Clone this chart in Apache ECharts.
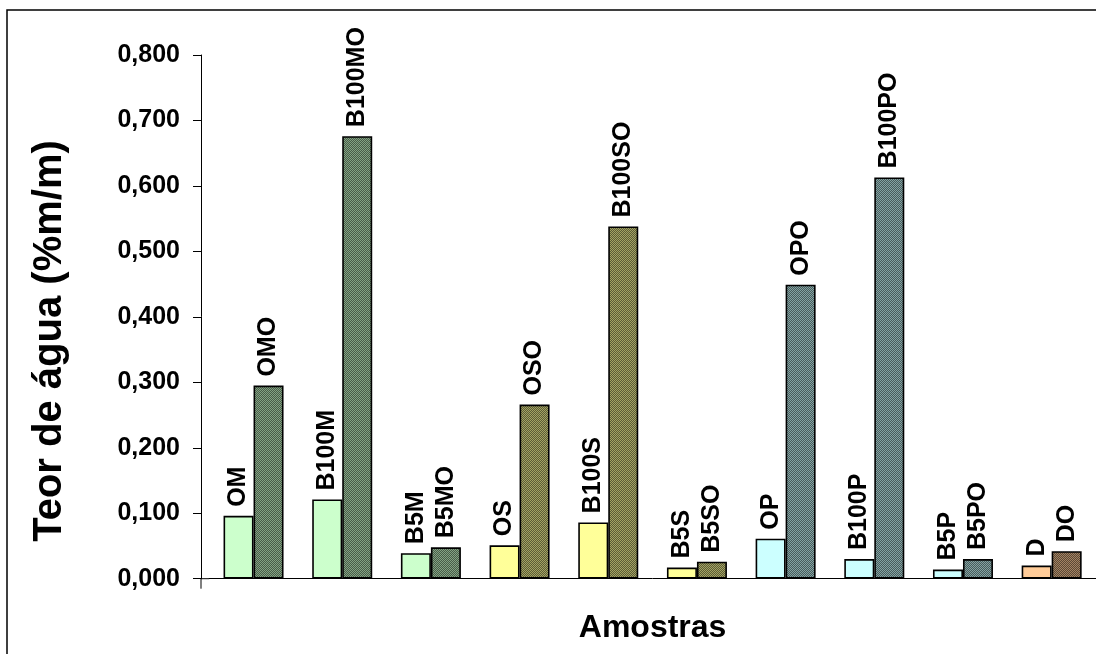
<!DOCTYPE html>
<html>
<head>
<meta charset="utf-8">
<script src="https://cdn.jsdelivr.net/npm/echarts@6/dist/echarts.min.js"></script>
<style>
  html, body { margin: 0; padding: 0; background: #fff; }
  #chart { width: 1096px; height: 654px; }
</style>
</head>
<body>
<div id="chart"></div>
<script>
// Samples: plain (left bar) and oxidised (right bar) for each fuel
const lightNames = ['OM', 'B100M', 'B5M', 'OS', 'B100S', 'B5S', 'OP', 'B100P', 'B5P', 'D'];
const darkNames = ['OMO', 'B100MO', 'B5MO', 'OSO', 'B100SO', 'B5SO', 'OPO', 'B100PO', 'B5PO', 'DO'];
const lightValues = [0.096, 0.121, 0.039, 0.051, 0.086, 0.017, 0.061, 0.030, 0.014, 0.020];
const darkValues = [0.295, 0.676, 0.048, 0.266, 0.538, 0.026, 0.449, 0.613, 0.030, 0.042];
const yTicks = [0, 0.1, 0.2, 0.3, 0.4, 0.5, 0.6, 0.7, 0.8];

// Fill colour of each sample family
const fills = ['#CCFFCC', '#CCFFCC', '#CCFFCC', '#FFFF99', '#FFFF99', '#FFFF99',
               '#CCFFFF', '#CCFFFF', '#CCFFFF', '#FFCC99'];

const FONT = '"Liberation Sans", Arial, Helvetica, sans-serif';

// 50% dot pattern (base colour half-shaded with black), drawn as a soft
// checkerboard around the mixed tone
function dotted(base) {
  const rgb = [1, 3, 5].map(i => parseInt(base.slice(i, i + 2), 16) / 2);
  const tone = k => `rgb(${rgb.map(v => Math.min(255, Math.round(v * k))).join(',')})`;
  const c = document.createElement('canvas');
  c.width = 2; c.height = 2;
  const ctx = c.getContext('2d');
  ctx.fillStyle = tone(0.72); ctx.fillRect(0, 0, 2, 2);
  ctx.fillStyle = tone(1.28); ctx.fillRect(0, 0, 1, 1); ctx.fillRect(1, 1, 1, 1);
  return { image: c, repeat: 'repeat' };
}

const fmt = v => v.toFixed(3).replace('.', ',');

const chart = echarts.init(document.getElementById('chart'), null, { renderer: 'canvas' });

const gridLeft = 209.2, gridTop = 55, gridW = 892, gridH = 523.7, yOffset = 8.2;

const barLabel = names => ({
  show: true,
  position: 'top',
  rotate: 90,
  align: 'left',
  verticalAlign: 'middle',
  distance: 9,
  color: '#000',
  fontFamily: FONT,
  fontWeight: 'bold',
  fontSize: 25,
  formatter: p => names[p.dataIndex]
});

chart.setOption({
  animation: false,
  backgroundColor: '#fff',
  grid: { left: gridLeft, top: gridTop, width: gridW, height: gridH, containLabel: false },
  xAxis: {
    type: 'category',
    data: lightNames,
    axisLine: { show: true, lineStyle: { color: '#000', width: 1 } },
    axisTick: { show: false },
    axisLabel: { show: false },
    splitLine: { show: false },
    name: 'Amostras',
    nameLocation: 'middle',
    nameGap: 33,
    nameTextStyle: { fontFamily: FONT, fontWeight: 'bold', fontSize: 32, color: '#000' }
  },
  yAxis: {
    type: 'value',
    min: yTicks[0],
    max: yTicks[yTicks.length - 1],
    interval: yTicks[1] - yTicks[0],
    offset: yOffset,
    axisLine: { show: true, lineStyle: { color: '#000', width: 1 } },
    axisTick: { show: true, length: 8, lineStyle: { color: '#000', width: 1 } },
    axisLabel: {
      margin: 21,
      fontFamily: FONT, fontWeight: 'bold', fontSize: 25, color: '#000',
      formatter: fmt
    },
    splitLine: { show: false }
  },
  series: [
    {
      name: 'amostra',
      type: 'bar',
      barWidth: 30,
      barGap: '0%',
      data: lightValues.map((v, i) => ({ value: v, itemStyle: { color: fills[i] } })),
      itemStyle: { borderColor: '#000', borderWidth: 1.6 },
      label: barLabel(lightNames)
    },
    {
      name: 'amostra oxidada',
      type: 'bar',
      barWidth: 30,
      barGap: '0%',
      data: darkValues.map((v, i) => ({ value: v, itemStyle: { color: dotted(fills[i]) } })),
      itemStyle: { borderColor: '#000', borderWidth: 1.6 },
      label: barLabel(darkNames)
    }
  ]
});

// Frame, y-axis title and the short axis stubs left of the first category
const y0 = chart.convertToPixel({ yAxisIndex: 0 }, 0);
const axisX = gridLeft - yOffset;
chart.setOption({
  graphic: [
    {
      type: 'rect', silent: true,
      shape: { x: 7, y: 10, width: 1300, height: 800 },
      style: { fill: 'none', stroke: '#000', lineWidth: 1.5 }
    },
    {
      type: 'text', silent: true,
      x: 50, y: 341, rotation: Math.PI / 2,
      style: {
        text: 'Teor de água (%m/m)',
        fontFamily: FONT, fontWeight: 'bold', fontSize: 40,
        fill: '#000', align: 'center', verticalAlign: 'middle'
      }
    },
    {
      type: 'line', silent: true,
      shape: { x1: axisX, y1: y0, x2: gridLeft, y2: y0 },
      style: { stroke: '#000', lineWidth: 1 }
    },
    {
      type: 'line', silent: true,
      shape: { x1: axisX, y1: y0, x2: axisX, y2: y0 + 10 },
      style: { stroke: '#000', lineWidth: 1 }
    }
  ]
});
</script>
</body>
</html>
